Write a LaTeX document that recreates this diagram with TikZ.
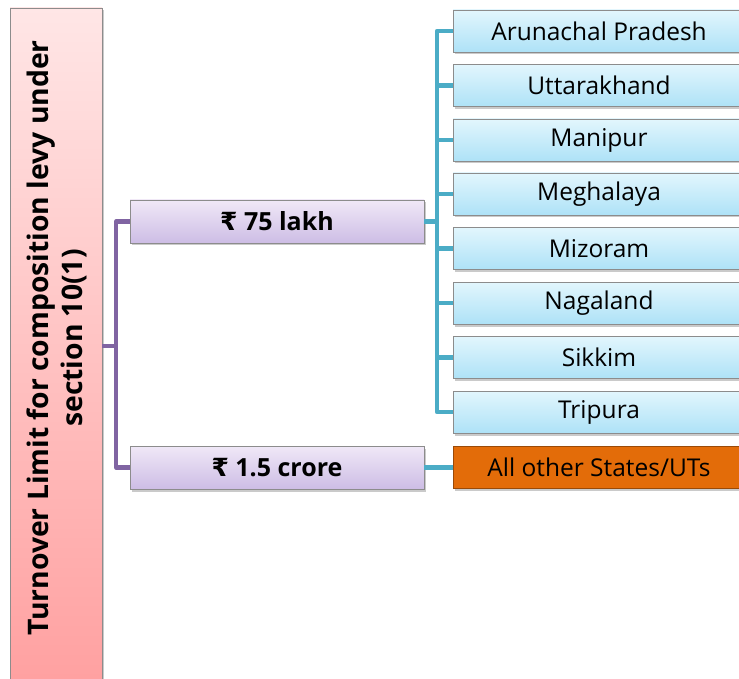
\documentclass[tikz,border=0pt]{standalone}
\usepackage{fontspec}
\setmainfont{Open Sans}
\newfontfamily\rupeefont{DejaVu Sans}
\usetikzlibrary{shadows}

\definecolor{rootTop}{HTML}{FFE6E6}
\definecolor{rootBot}{HTML}{FF9E9E}
\definecolor{lavTop}{HTML}{F0E8F7}
\definecolor{lavBot}{HTML}{CDBDE5}
\definecolor{skyTop}{HTML}{E2F6FD}
\definecolor{skyBot}{HTML}{AEE2F7}
\definecolor{orangeFill}{HTML}{E36C09}
\definecolor{orangeEdge}{HTML}{9A4A08}
\definecolor{purpleLine}{HTML}{8064A2}
\definecolor{tealLine}{HTML}{4BACC6}
\definecolor{boxEdge}{HTML}{8C8C8C}

\newcommand{\Rs}{{\rupeefont\bfseries ₹}}

\tikzset{
  boxshadow/.style={drop shadow={shadow xshift=2pt, shadow yshift=-2.5pt, opacity=0.35, fill=black!60}},
  rootbox/.style={draw=boxEdge, line width=0.6pt, top color=rootTop, bottom color=rootBot,
    minimum width=92pt, minimum height=700pt, inner sep=0pt, boxshadow},
  roottext/.style={rotate=90, align=center, font=\fontsize{28.3}{34}\selectfont\bfseries},
  amountbox/.style={draw=boxEdge, line width=0.6pt, top color=lavTop, bottom color=lavBot,
    minimum width=294pt, minimum height=43pt, inner sep=0pt, boxshadow,
    font=\fontsize{25}{28}\selectfont\bfseries},
  statebox/.style={draw=boxEdge, line width=0.6pt, top color=skyTop, bottom color=skyBot,
    minimum width=292pt, minimum height=42pt, inner sep=0pt, boxshadow,
    font=\fontsize{24.5}{28}\selectfont},
  otherbox/.style={statebox, fill=orangeFill, top color=orangeFill, bottom color=orangeFill, draw=orangeEdge},
  pline/.style={draw=purpleLine, line width=4.2pt, line join=round},
  tline/.style={draw=tealLine, line width=4.2pt, line join=round},
}

\begin{document}
\begin{tikzpicture}[x=1pt, y=-1pt]
\useasboundingbox (0,0) rectangle (739,679);
\begin{scope}
\clip (0,0) rectangle (739,679);

% root box with its rotated caption
\node[rootbox] (root) at (56,358) {};
\node[roottext] (rootlabel) at (57,338) {Turnover Limit for composition levy under\\section 10(1)};

% turnover limits
\node[amountbox] (lakh) at (277,221.5) {\Rs\ 75 lakh};
\node[amountbox] (crore) at (277,467.5) {\Rs\ 1.5 crore};

% states
\node[statebox] (s1) at (599,31)    {Arunachal Pradesh};
\node[statebox] (s2) at (599,85.5)  {Uttarakhand};
\node[statebox] (s3) at (599,140)   {Manipur};
\node[statebox] (s4) at (599,194)   {Meghalaya};
\node[statebox] (s5) at (599,248.5) {Mizoram};
\node[statebox] (s6) at (599,303)   {Nagaland};
\node[statebox] (s7) at (599,357.5) {Sikkim};
\node[statebox] (s8) at (599,412)   {Tripura};
\node[otherbox] (s9) at (599,467.5) {All other States/UTs};

% purple tree from the root to the two limits
\coordinate (pj) at (116,346);
\draw[pline] (root.east |- pj) -- (pj);
\draw[pline] (lakh.west) -| (pj) |- (crore.west);

% teal tree from 75 lakh to the states
\coordinate (tj) at (437,221.5);
\draw[tline] (lakh.east) -- (tj);
\draw[tline] (s1.west) -| (tj) |- (s8.west);
\foreach \s in {s2,s3,s4,s5,s6,s7} {
  \draw[tline] (tj |- \s.west) -- (\s.west);
}
\draw[tline] (crore.east) -- (s9.west);

\end{scope}
\end{tikzpicture}
\end{document}
